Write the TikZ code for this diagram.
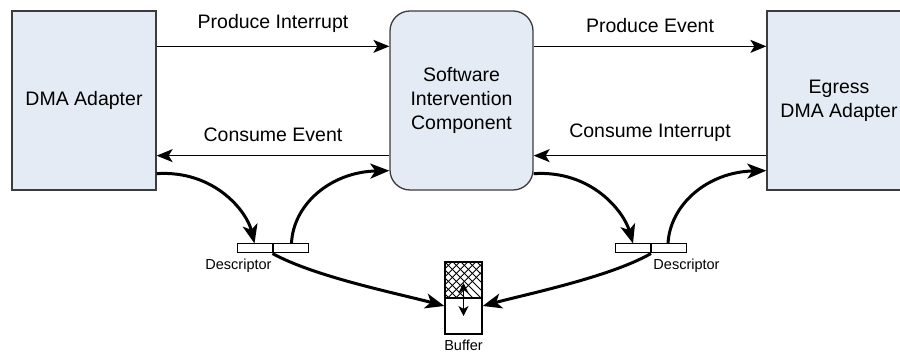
\documentclass[tikz,border=0pt]{standalone}
\usepackage{fontspec}
\setmainfont{Liberation Sans}
\usetikzlibrary{arrows.meta,calc}
\definecolor{boxfill}{RGB}{228,235,244}
\definecolor{boxline}{RGB}{60,60,60}
\tikzset{
  unitbox/.style={draw=boxline, fill=boxfill, line width=1.3pt, inner sep=0pt,
    minimum width=144pt, minimum height=179pt, align=center,
    font=\fontsize{19.5}{24}\selectfont},
  sicbox/.style={unitbox, rounded corners=20pt, minimum width=143pt},
  cell/.style={draw=black, fill=white, line width=1pt, inner sep=0pt,
    minimum width=35pt, minimum height=9pt},
  biglabel/.style={font=\fontsize{19.5}{24}\selectfont, inner sep=0pt},
  smalllabel/.style={font=\fontsize{14.5}{17}\selectfont, inner sep=0pt},
  signal/.style={line width=1.3pt, -{Stealth[length=16pt,width=13pt,inset=4pt]}},
  flow/.style={line width=3pt, -{Stealth[length=19pt,width=15pt,inset=5pt]}},
  slide/.style={line width=1.3pt, {Stealth[length=10pt,width=10pt,inset=3pt]}-{Stealth[length=10pt,width=10pt,inset=3pt]}}
}
\begin{document}
\begin{tikzpicture}[x=1pt,y=-1pt]
\useasboundingbox (0,0) rectangle (900,352);
\begin{scope}
\clip (0,0) rectangle (900,352);

% three processing blocks
\node[unitbox] (dma) at (84,100.5) {DMA Adapter};
\node[sicbox] (sic) at (461.5,100.5) {Software\\Intervention\\Component};
\node[unitbox] (egr) at (839,100.5) {Egress\\DMA Adapter};

% interrupt / event signals
\draw[signal] ($(dma.north east)+(0,36)$) -- node[biglabel, above=13pt] {Produce Interrupt} ($(sic.north west)+(0,36)$);
\draw[signal] ($(sic.south west)+(0,-35)$) -- node[biglabel, above=13pt] {Consume Event} ($(dma.south east)+(0,-35)$);
\draw[signal] ($(sic.north east)+(0,36)$) -- node[biglabel, above=13pt] {Produce Event} ($(egr.north west)+(0,36)$);
\draw[signal] ($(egr.south west)+(0,-35)$) -- node[biglabel, above=13pt] {Consume Interrupt} ($(sic.south east)+(0,-35)$);

% descriptor rings
\node[cell] (dl1) at (254.5,248.5) {};
\node[cell] (dl2) at (290.5,248.5) {};
\node[cell] (dr1) at (633,248.5) {};
\node[cell] (dr2) at (669,248.5) {};
\node[smalllabel] (dlt) at (238.5,266) {Descriptor};
\node[smalllabel] (drt) at (686.5,266) {Descriptor};

% buffer with filled upper half
\node[draw=black, line width=1.3pt, inner sep=0pt, minimum width=37pt, minimum height=72pt, fill=white] (buf) at (463.5,298) {};
\begin{scope}
  \clip (buf.north west) rectangle (buf.east);
  \foreach \k in {-56,-48,...,48} {
    \draw[line width=0.9pt] ($(buf.north west)+(\k,0)$) -- ++(40,40);
    \draw[line width=0.9pt] ($(buf.north west)+(\k,0)$) -- ++(-40,40);
  }
\end{scope}
\draw[line width=1.3pt] (buf.north west) rectangle (buf.south east);
\draw[line width=1.3pt] (buf.west) -- (buf.east);
\draw[slide] ($(buf.center)+(0,-15)$) -- ($(buf.center)+(0,18)$);
\node[smalllabel] (buft) at (463.5,345.5) {Buffer};

% descriptor flow
\draw[flow] ($(dma.south east)+(0,-17)$) .. controls (215,170) and (247,212) .. (dl1.north);
\draw[flow] ([xshift=1pt]dl2.north) .. controls (293,205) and (330,172) .. ($(sic.south west)+(0,-20)$);
\draw[flow] ($(sic.south east)+(0,-17)$) .. controls (592,170) and (624,212) .. (dr1.north);
\draw[flow] ([xshift=-1pt]dr2.north) .. controls (670,205) and (707,172) .. ($(egr.south west)+(0,-20)$);
\draw[flow] (dl1.south east) .. controls (315,277) and (400,294) .. ($(buf.west)+(0,8)$);
\draw[flow] (dr1.south east) .. controls (610,277) and (527,294) .. ($(buf.east)+(0,8)$);
\end{scope}
\end{tikzpicture}
\end{document}
